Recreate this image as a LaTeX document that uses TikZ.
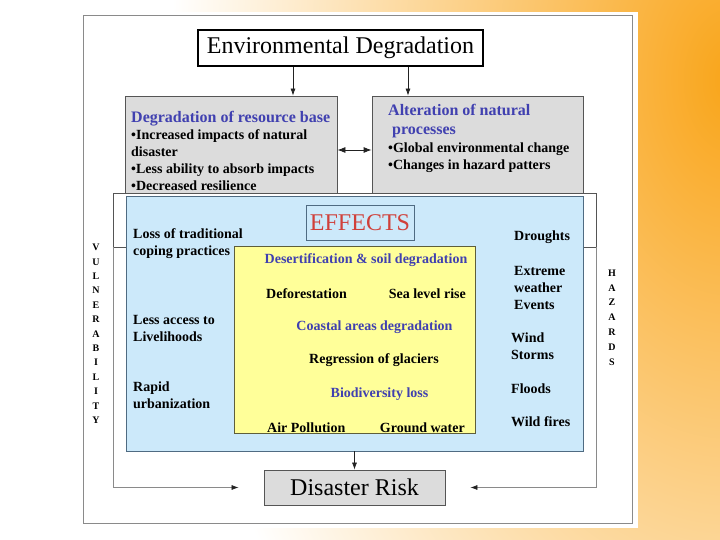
\documentclass[tikz,border=0pt]{standalone}
\usepackage{fontspec}
\setmainfont{Liberation Serif}
\usetikzlibrary{arrows.meta,positioning}
\definecolor{Slate}{HTML}{4040B0}
\definecolor{Brick}{HTML}{D0403A}
\definecolor{Sky}{HTML}{CCE9FA}
\definecolor{SkyEdge}{HTML}{4F6B82}
\definecolor{Lemon}{HTML}{FFFF99}
\definecolor{LemonEdge}{HTML}{5E5E3A}
\definecolor{Ash}{HTML}{DCDCDC}
\definecolor{Edge}{HTML}{555555}
\definecolor{Frame}{HTML}{8A8A8A}
\definecolor{Ink}{HTML}{222222}
\definecolor{Amber}{HTML}{F9A51A}

\begin{document}
\begin{tikzpicture}[x=1pt,y=-1pt,
    panel/.style={draw=Edge,fill=Ash,line width=0.8pt,inner sep=0pt},
    txt/.style={font=\fontsize{14}{17}\selectfont\bfseries,inner sep=0pt,align=left},
    blu/.style={txt,text=Slate},
    tall/.style={font=\fontsize{10}{10}\selectfont\bfseries,inner sep=0pt},
    arr/.style={-{Latex[length=7pt,width=5pt,color=Ink]},line width=0.7pt,draw=Ink},
    dbl/.style={{Latex[length=8pt,width=6pt]}-{Latex[length=8pt,width=6pt]},line width=0.8pt,draw=Ink}
  ]
  % slide background
  \fill[white] (0,0) rectangle (720,540);
  \begin{scope}
    \clip (0,0) rectangle (720,540);
    \shade[inner color=Amber,outer color=white] (730,80) ellipse [x radius=560pt,y radius=860pt];
  \end{scope}
  \useasboundingbox (0,0) rectangle (720,540);
  \fill[white] (80,12) rectangle (638,528);
  \draw[Frame,line width=0.8pt] (83,15) rectangle (632,523);

  % top part
  \node[draw=black,line width=1.6pt,fill=white,minimum width=285pt,minimum height=36pt,
    inner sep=0pt,font=\fontsize{24}{24}\selectfont] (envdeg) at (340.5,48) {Environmental Degradation};
  \node[panel,minimum width=212pt,minimum height=97pt] (resbase) at (231,144.5) {};
  \node[panel,minimum width=211pt,minimum height=97pt] (altproc) at (477.5,144.5) {};
  \node[txt,anchor=west] (resbasetxt) at (131,151)
    {{\fontsize{16}{17}\selectfont\color{Slate}Degradation of resource base}\\
     \textbullet Increased impacts of natural\\disaster\\
     \textbullet Less ability to absorb impacts\\
     \textbullet Decreased resilience};
  \node[txt,anchor=west] (altproctxt) at (388,138)
    {{\fontsize{16}{17}\selectfont\color{Slate}Alteration of natural}\\[2pt]
     {\fontsize{16}{17}\selectfont\color{Slate}\hspace{4pt}processes}\\[1pt]
     \textbullet Global environmental change\\
     \textbullet Changes in hazard patters};
  \draw[arr] (envdeg.south -| 293,0) -- (resbase.north -| 293,0);
  \draw[arr] (envdeg.south -| 408,0) -- (altproc.north -| 408,0);
  \draw[dbl] ([yshift=-5.5pt]resbase.east) -- ([yshift=-5.5pt]altproc.west);

  % frame of vulnerability and hazards
  \draw[Edge,line width=0.8pt] (113,193) rectangle (596,247);
  \coordinate (vulL) at (113,247);
  \coordinate (hazR) at (596,247);

  % effects
  \node[draw=SkyEdge,fill=Sky,line width=0.8pt,minimum width=457pt,minimum height=255pt,
    inner sep=0pt] (effbox) at (354.5,323.5) {};
  \node[draw=SkyEdge,fill=Sky,line width=0.8pt,minimum width=108pt,minimum height=35pt,
    inner sep=0pt,text=Brick,font=\fontsize{24}{24}\selectfont] (effects) at (360,222.5) {EFFECTS};
  \node[draw=LemonEdge,fill=Lemon,line width=0.8pt,minimum width=241pt,minimum height=187pt,
    inner sep=0pt] (impacts) at (354.5,339.5) {};

  \node[txt,anchor=west] (lossprac) at (133,244) {Loss of traditional\\coping practices};
  \node[txt,anchor=west] (lessacc) at (133,328) {Less access to\\Livelihoods};
  \node[txt,anchor=west] (rapidurb) at (133,395) {Rapid\\urbanization};

  \node[txt,anchor=west] (droughts) at (514,237.5) {Droughts};
  \node[txt,anchor=west] (extreme) at (514,287.5) {Extreme\\weather\\Events};
  \node[txt,anchor=west] (wind) at (511,346) {Wind\\Storms};
  \node[txt,anchor=west] (floods) at (511,388.5) {Floods};
  \node[txt,anchor=west] (wildfires) at (511,421.5) {Wild fires};

  \node[blu] (desert) at (366,260.5) {Desertification \& soil degradation};
  \node[txt,anchor=west] (defor) at (266,293.5) {Deforestation};
  \node[txt,anchor=east] (sealevel) at (466,293.5) {Sea level rise};
  \node[blu] (coastal) at (374.5,327) {Coastal areas degradation};
  \node[txt] (regress) at (374,360.5) {Regression of glaciers};
  \node[blu] (biodiv) at (379.5,394) {Biodiversity loss};
  \node[txt,anchor=west] (airpol) at (267,428) {Air Pollution};
  \node[txt,anchor=east] (groundw) at (465,428) {Ground water};

  % side words
  \foreach \ch [count=\i] in {V,U,L,N,E,R,A,B,I,L,I,T,Y}
    \node[tall] (vul\i) at (96,233+14.4*\i) {\ch};
  \foreach \ch [count=\i] in {H,A,Z,A,R,D,S}
    \node[tall] (haz\i) at (612,258.2+14.8*\i) {\ch};

  % bottom
  \node[panel,minimum width=181pt,minimum height=35pt,
    font=\fontsize{24}{24}\selectfont] (risk) at (354.5,487.5) {Disaster Risk};
  \draw[arr] (effbox.south) -- (risk.north);
  \draw[arr,draw=Frame] (vulL) |- ([xshift=-25pt]risk.west);
  \draw[arr,draw=Frame] (hazR) |- ([xshift=25pt]risk.east);
\end{tikzpicture}
\end{document}
